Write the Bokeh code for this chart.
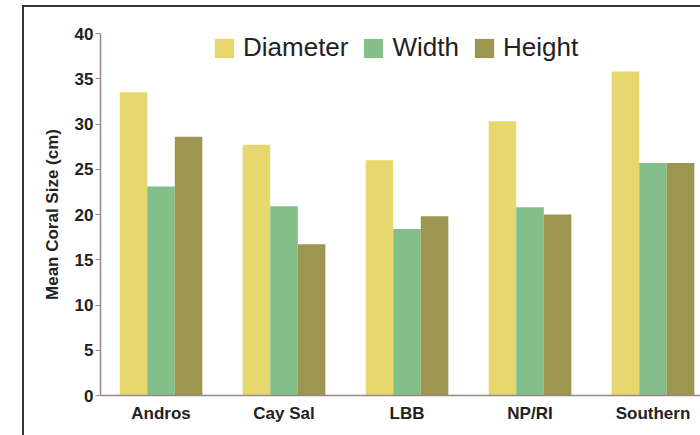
from bokeh.plotting import figure
from bokeh.models import ColumnDataSource, Range1d, FixedTicker, Legend, LegendItem
from bokeh.layouts import column
from bokeh.embed import file_html
from bokeh.resources import INLINE
from bokeh.transform import dodge

regions = ["Andros", "Cay Sal", "LBB", "NP/RI", "Southern"]
diameter = [33.5, 27.7, 26.0, 30.3, 35.8]
width_cm = [23.1, 20.9, 18.4, 20.8, 25.7]
height_cm = [28.6, 16.7, 19.8, 20.0, 25.7]
y_ticks = [0, 5, 10, 15, 20, 25, 30, 35, 40]

x_pos = [i + 0.5 for i in range(len(regions))]
src = ColumnDataSource(dict(x=x_pos, diameter=diameter, width=width_cm, height=height_cm))

FONT = "Liberation Sans"
BW = 0.224

p = figure(width=676, height=428, output_backend="svg", toolbar_location=None,
           x_range=Range1d(0.008, 4.886), y_range=Range1d(0, 40),
           min_border_left=76, min_border_right=0, min_border_top=26, min_border_bottom=40)
p.background_fill_color = "white"
p.border_fill_color = "white"
p.outline_line_color = None
p.grid.visible = False

r1 = p.vbar(x=dodge("x", -BW, range=p.x_range), top="diameter", width=BW, source=src,
            fill_color="#e6d86e", line_color=None)
r2 = p.vbar(x="x", top="width", width=BW, source=src,
            fill_color="#84bf89", line_color=None)
r3 = p.vbar(x=dodge("x", BW, range=p.x_range), top="height", width=BW, source=src,
            fill_color="#9d9650", line_color=None)

legend = Legend(items=[LegendItem(label="Diameter", renderers=[r1]),
                       LegendItem(label="Width", renderers=[r2]),
                       LegendItem(label="Height", renderers=[r3])],
                orientation="horizontal", location=(112, 332))
legend.glyph_width = 24
legend.glyph_height = 24
legend.label_standoff = 7
legend.spacing = 13
legend.padding = 0
legend.margin = 0
legend.border_line_color = None
legend.background_fill_alpha = 0
legend.label_text_font = FONT
legend.label_text_font_size = "26px"
legend.label_text_color = "#222222"
p.add_layout(legend, "center")

p.xaxis.ticker = FixedTicker(ticks=x_pos)
p.xaxis.major_label_overrides = {x: r for x, r in zip(x_pos, regions)}
p.xaxis.major_tick_line_color = None
p.xaxis.major_tick_out = 0
p.xaxis.major_tick_in = 0
p.xaxis.minor_tick_line_color = None
p.xaxis.major_label_standoff = 8
p.xaxis.axis_line_color = "#9a8888"
p.xaxis.axis_line_width = 1.5

p.yaxis.ticker = FixedTicker(ticks=y_ticks)
p.yaxis.axis_label = "Mean Coral Size (cm)"
p.yaxis.axis_label_standoff = 10
p.yaxis.major_tick_out = 5
p.yaxis.major_tick_in = 0
p.yaxis.minor_tick_line_color = None
p.yaxis.major_tick_line_color = "#9a8888"
p.yaxis.axis_line_color = "#9a8888"
p.yaxis.axis_line_width = 1.5
p.yaxis.major_label_standoff = 2

for ax in (p.xaxis, p.yaxis):
    ax.major_label_text_font = FONT
    ax.major_label_text_font_size = "17px"
    ax.major_label_text_font_style = "bold"
    ax.major_label_text_color = "#222222"
    ax.axis_label_text_font = FONT
    ax.axis_label_text_font_size = "17px"
    ax.axis_label_text_font_style = "bold"
    ax.axis_label_text_color = "#222222"

layout = column(p, styles={"margin-left": "22px", "margin-top": "5px",
                           "border-left": "2px solid #333333",
                           "border-top": "2px solid #333333"})

open("out.html", "w").write(file_html(layout, INLINE))
